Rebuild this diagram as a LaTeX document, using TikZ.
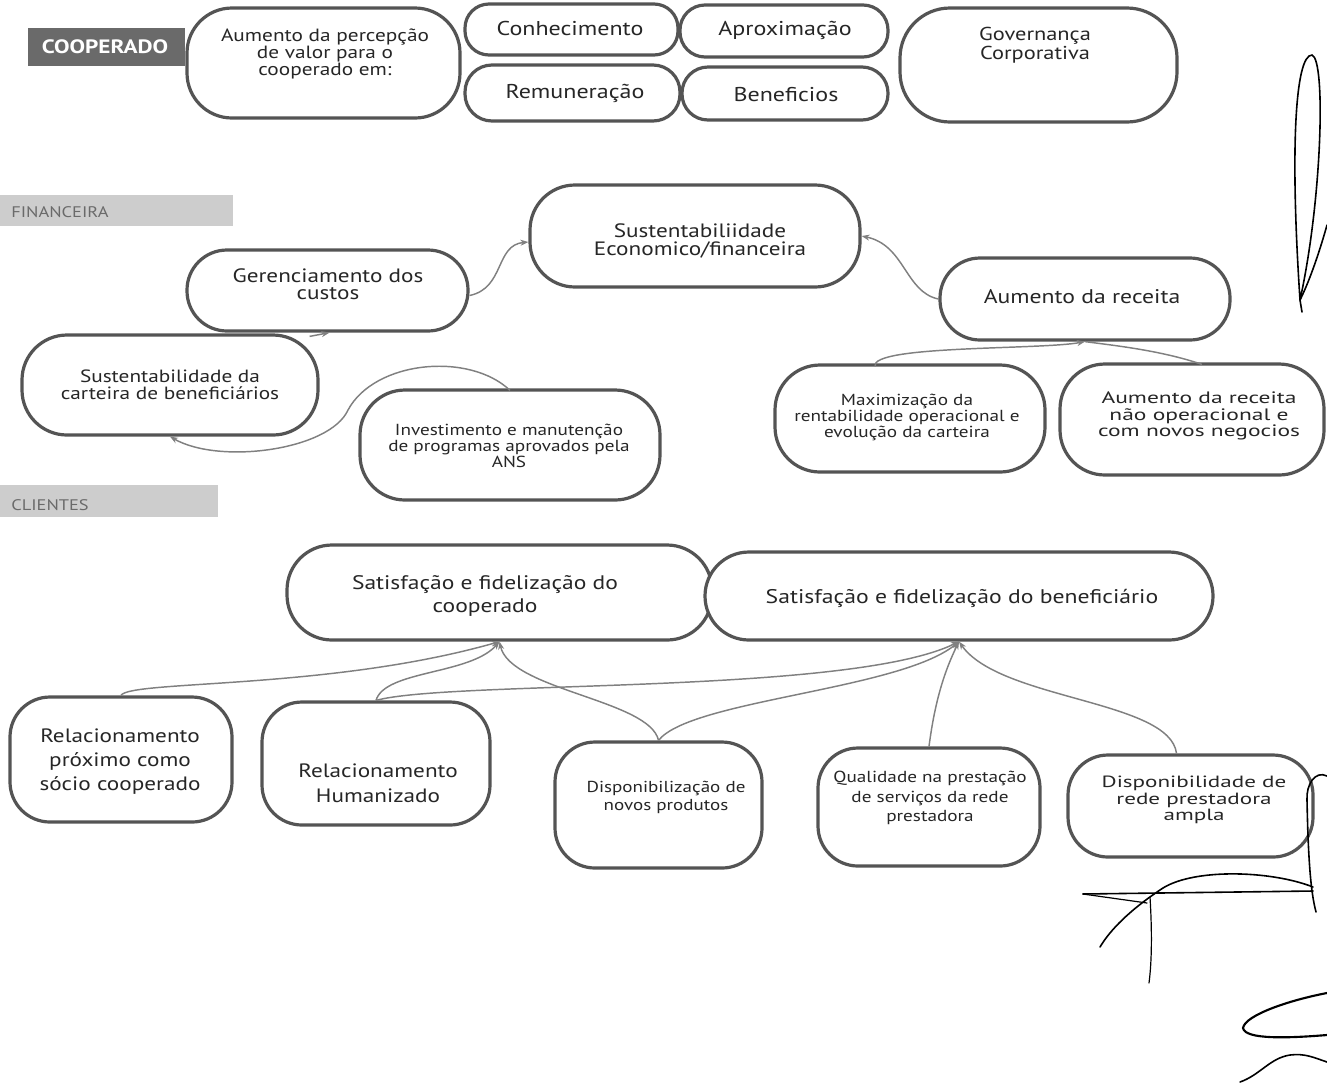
\documentclass[tikz,border=0pt]{standalone}
\usepackage{fontspec}
\setmainfont{PT Sans}[FakeStretch=1.2]
\newfontfamily\widefont{PT Sans}[FakeStretch=1.42]
\usetikzlibrary{arrows.meta,calc}
\definecolor{boxgray}{HTML}{545454}
\definecolor{linkgray}{HTML}{808080}
\definecolor{txtgray}{HTML}{262626}
\definecolor{sectgray}{HTML}{CDCDCD}
\definecolor{labgray}{HTML}{6A6A6A}
\newcommand\mkbox[6]{\node[box, rounded corners=#6*0.75pt, minimum width={(#4-#2)*0.75pt}, minimum height={(#5-#3)*0.75pt}] (#1) at ({(#2+#4)/2},{(#3+#5)/2}) {};}
\newcommand\fs[2]{\fontsize{#1}{#2}\selectfont}
\begin{document}
\begin{tikzpicture}[x=0.75pt,y=-0.75pt,
  box/.style={draw=boxgray, line width=2.4pt, inner sep=0pt, fill=white},
  txt/.style={align=center, text=txtgray, inner sep=0pt},
  link/.style={draw=linkgray, line width=1.1pt},
  tip/.style={-{Stealth[length=6pt,width=4.5pt]}},
  sect/.style={fill=sectgray, draw=none},
  sig/.style={draw=black, line width=1.2pt, line cap=round}
]
\useasboundingbox (0,0) rectangle (1327,1090);

% section bars
\fill[labgray] (28,28) rectangle (185,66);
\node[text=white, font=\fs{14.5}{14}\bfseries, inner sep=0pt] (lcoop) at (105,47) {COOPERADO};
\fill[sect] (0,195) rectangle (233,226);
\node[anchor=west, text=labgray, font=\fs{11.5}{12}, inner sep=0pt] (lfin) at (11,212) {FINANCEIRA};
\fill[sect] (0,485) rectangle (218,517);
\node[anchor=west, text=labgray, font=\fs{11.5}{12}, inner sep=0pt] (lcli) at (11,505) {CLIENTES};

% boxes
\mkbox{perc}{187}{8}{460}{118}{45}
\mkbox{conh}{465}{4}{678}{55}{24}
\mkbox{apro}{680}{5}{888}{57}{25}
\mkbox{remu}{465}{65}{680}{121}{27}
\mkbox{bene}{682}{67}{888}{120}{26}
\mkbox{gov}{900}{8}{1177}{122}{50}
\mkbox{se}{530}{185}{860}{287}{45}
\mkbox{gc}{187}{250}{468}{331}{40}
\mkbox{ar}{940}{258}{1230}{340}{40}
\mkbox{cart}{22}{335}{318}{435}{45}
\mkbox{inv}{360}{390}{660}{500}{45}
\mkbox{max}{775}{365}{1045}{472}{45}
\mkbox{nop}{1060}{364}{1324}{475}{45}
\mkbox{sc}{287}{545}{712}{640}{45}
\mkbox{sb}{705}{552}{1213}{640}{44}
\mkbox{rp}{10}{697}{232}{822}{40}
\mkbox{rh}{262}{702}{490}{825}{40}
\mkbox{dp}{555}{742}{762}{868}{40}
\mkbox{ql}{818}{748}{1040}{866}{40}
\mkbox{dd}{1068}{755}{1313}{857}{40}

% texts
\node[txt, font=\fs{13.3}{10.8}] (tperc) at (325,54) {Aumento da percepção\\de valor para o\\cooperado em:};
\node[txt, font=\fs{15}{14}] (tconh) at (570,28) {Conhecimento};
\node[txt, font=\fs{15}{14}] (tapro) at (785,30) {Aproximação};
\node[txt, font=\fs{15}{14}] (tremu) at (575,93) {Remuneração};
\node[txt, font=\fs{15}{14}] (tbene) at (786,95) {Beneficios};
\node[txt, font=\fs{14}{11}] (tgov) at (1035,45) {Governança\\Corporativa};
\node[txt, font=\fs{14.5}{14}] (tse) at (700,241) {Sustentabiliidade\\Economico/financeira};
\node[txt, font=\fs{14.5}{13}] (tgc) at (328,284) {Gerenciamento dos\\custos};
\node[txt, font=\fs{14.8}{14}] (tar) at (1082,297) {Aumento da receita};
\node[txt, font=\fs{13.3}{12.8}] (tcart) at (170,385) {Sustentabilidade da\\carteira de beneficiários};
\node[txt, font=\fs{12}{10.8}] (tinv) at (509,446) {Investimento e manutenção\\de programas aprovados pela\\ANS};
\node[txt, font=\fs{12}{10}] (tmax) at (907,417) {Maximização da\\rentabilidade operacional e\\evolução da carteira};
\node[txt, font=\widefont\fs{12.4}{12.6}] (tnop) at (1199,416) {Aumento da receita\\não operacional e\\com novos negocios};
\node[txt, font=\fs{14.7}{17}] (tsc) at (485,596) {Satisfação e fidelização do\\cooperado};
\node[txt, font=\fs{14.8}{17}] (tsb) at (962,598) {Satisfação e fidelização do beneficiário};
\node[txt, font=\fs{14.5}{18}] (trp) at (120,762) {Relacionamento\\próximo como\\sócio cooperado};
\node[txt, font=\fs{14.5}{18.5}] (trh) at (378,783) {Relacionamento\\Humanizado};
\node[txt, font=\fs{11.9}{13.5}] (tdp) at (666,797) {Disponibilização de\\novos produtos};
\node[txt, font=\fs{12}{14.6}] (tql) at (930,798) {Qualidade na prestação\\de serviços da rede\\prestadora};
\node[txt, font=\widefont\fs{12.2}{12.2}] (tdd) at (1194,800) {Disponibilidade de\\rede prestadora\\ampla};

% financial connectors
\draw[link, tip] (gc.east) ++(0,5) coordinate (g1) .. controls (505,288) and (495,245) .. (se.west |- 0,242);
\draw[link, tip] (ar.west) .. controls (905,292) and (905,245) .. (se.east |- 0,236);
\draw[link, tip] (cart.north east) ++(-10,3) coordinate (c1) -- ($(gc.south)+(2,0)$);
\draw[link, tip] (inv.north) ++(0,2) coordinate (i1) .. controls (470,352) and (375,360) .. (348,410) .. controls (330,450) and (220,465) .. (cart.south);
\draw[link, tip] (max.north) ++(-35,3) coordinate (m1) .. controls (870,345) and (1040,350) .. (ar.south);
\draw[link] (nop.north) ++(10,2) coordinate (n1) .. controls (1160,350) and (1110,345) .. (ar.south);

% client connectors
\draw[link, tip] (rp.north) .. controls (130,680) and (330,690) .. (sc.south);
\draw[link, tip] (rh.north) .. controls (385,670) and (470,675) .. (sc.south);
\draw[link, tip] (dp.north) .. controls (650,700) and (510,690) .. (sc.south);
\draw[link, tip] (rh.north) .. controls (450,680) and (850,695) .. (sb.south);
\draw[link, tip] (dp.north) .. controls (690,700) and (900,690) .. (sb.south);
\draw[link, tip] (ql.north) .. controls (935,700) and (945,670) .. (sb.south);
\draw[link, tip] (dd.north) ++(-14,0) coordinate (d1) .. controls (1170,700) and (1000,700) .. (sb.south);

% handwritten marks
\draw[sig] (1300,300) .. controls (1290,150) and (1295,55) .. (1312,55) .. controls (1326,60) and (1322,200) .. (1300,300) -- (1302,312);
\draw[sig] (1300,300) .. controls (1310,280) and (1320,250) .. (1327,225);
\draw[sig] (1327,776) .. controls (1315,770) and (1306,785) .. (1307,800) .. controls (1308,850) and (1310,890) .. (1316,912);
\draw[sig] (1083,894) -- (1313,891);
\draw[sig, line width=0.9pt] (1083,894) -- (1147,903);
\draw[sig] (1313,887) .. controls (1270,870) and (1190,868) .. (1160,890) .. controls (1130,910) and (1110,930) .. (1100,947);
\draw[sig, line width=0.9pt] (1150,897) .. controls (1152,930) and (1152,960) .. (1149,983);
\draw[sig, line width=1.6pt] (1327,993) .. controls (1290,1000) and (1245,1015) .. (1243,1028) .. controls (1245,1040) and (1290,1038) .. (1327,1035);
\draw[sig] (1240,1082) .. controls (1260,1075) and (1270,1058) .. (1290,1055) .. controls (1305,1053) and (1315,1058) .. (1327,1062);
\end{tikzpicture}
\end{document}
